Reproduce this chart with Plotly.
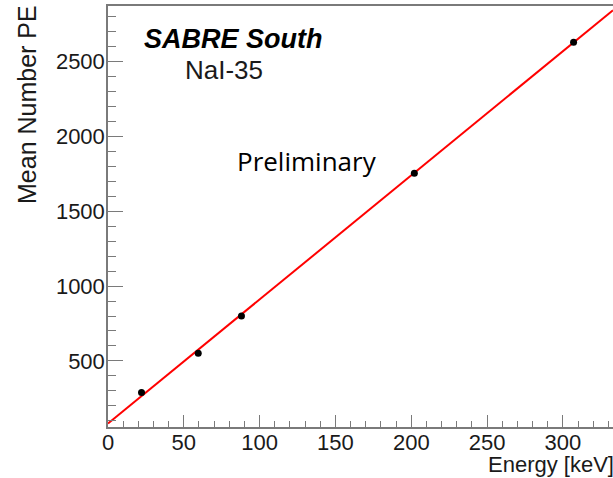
import plotly.graph_objects as go

# Data
energy_kev = [22.1, 59.5, 88.0, 202.0, 307.0]
mean_pe = [288, 551, 800, 1755, 2630]

# Linear fit parameters
fit_intercept = 81.0
fit_slope = 8.30

x_range = [0, 333]
y_range = [58, 2873]

fit_x = [x_range[0], x_range[1]]
fit_y = [fit_intercept + fit_slope * v for v in fit_x]

FONT = "Liberation Sans, Arial, Helvetica, sans-serif"
AX = "#7a7a7a"
TXT = "#1a1a1a"

fig = go.Figure()
fig.add_trace(go.Scatter(x=fit_x, y=fit_y, mode="lines",
                         line=dict(color="#ff0000", width=2), hoverinfo="skip",
                         showlegend=False))
fig.add_trace(go.Scatter(x=energy_kev, y=mean_pe, mode="markers",
                         marker=dict(color="black", size=7), showlegend=False))

fig.update_layout(
    width=613, height=478,
    margin=dict(l=108, r=0, t=6, b=51),
    paper_bgcolor="white", plot_bgcolor="white",
    font=dict(family=FONT, color=TXT),
    xaxis=dict(range=x_range, showgrid=False, zeroline=False,
               showline=True, linecolor=AX, linewidth=1.5, mirror=True,
               ticks="inside", ticklen=12, tickcolor=AX, tickwidth=1.2,
               ticklabelstandoff=-5,
               tick0=0, dtick=50, tickfont=dict(size=22, family=FONT, color=TXT),
               minor=dict(ticks="inside", ticklen=6, dtick=10, tickcolor=AX, tickwidth=1.2)),
    yaxis=dict(range=y_range, showgrid=False, zeroline=False,
               showline=True, linecolor=AX, linewidth=1.5,
               ticks="inside", ticklen=15, tickcolor=AX, tickwidth=1.2,
               ticklabelstandoff=-3,
               tick0=0, dtick=500, tickfont=dict(size=22, family=FONT, color=TXT),
               minor=dict(ticks="inside", ticklen=8, dtick=100, tickcolor=AX, tickwidth=1.2)),
)

anns = [
    dict(text="<b><i>SABRE South</i></b>", x=0.067, y=0.922, xanchor="left", yanchor="middle",
         font=dict(size=27, family=FONT, color="black")),
    dict(text="NaI-35", x=0.148, y=0.848, xanchor="left", yanchor="middle",
         font=dict(size=26, family=FONT, color=TXT)),
    dict(text="Preliminary", x=0.251, y=0.632, xanchor="left", yanchor="middle",
         font=dict(size=26, family="Open Sans, Noto Sans, sans-serif", color="black")),
    dict(text="Energy [keV]", x=1.0, y=-0.089, xanchor="right", yanchor="middle", xshift=2,
         borderpad=0, font=dict(size=22, family=FONT, color=TXT)),
    dict(text="Mean Number PE", x=-0.1603, y=0.765, xanchor="center", yanchor="middle",
         textangle=-90, font=dict(size=25, family=FONT, color=TXT)),
]
for a in anns:
    a.update(xref="paper", yref="paper", showarrow=False)
    fig.add_annotation(**a)

fig.write_html("out.html")
